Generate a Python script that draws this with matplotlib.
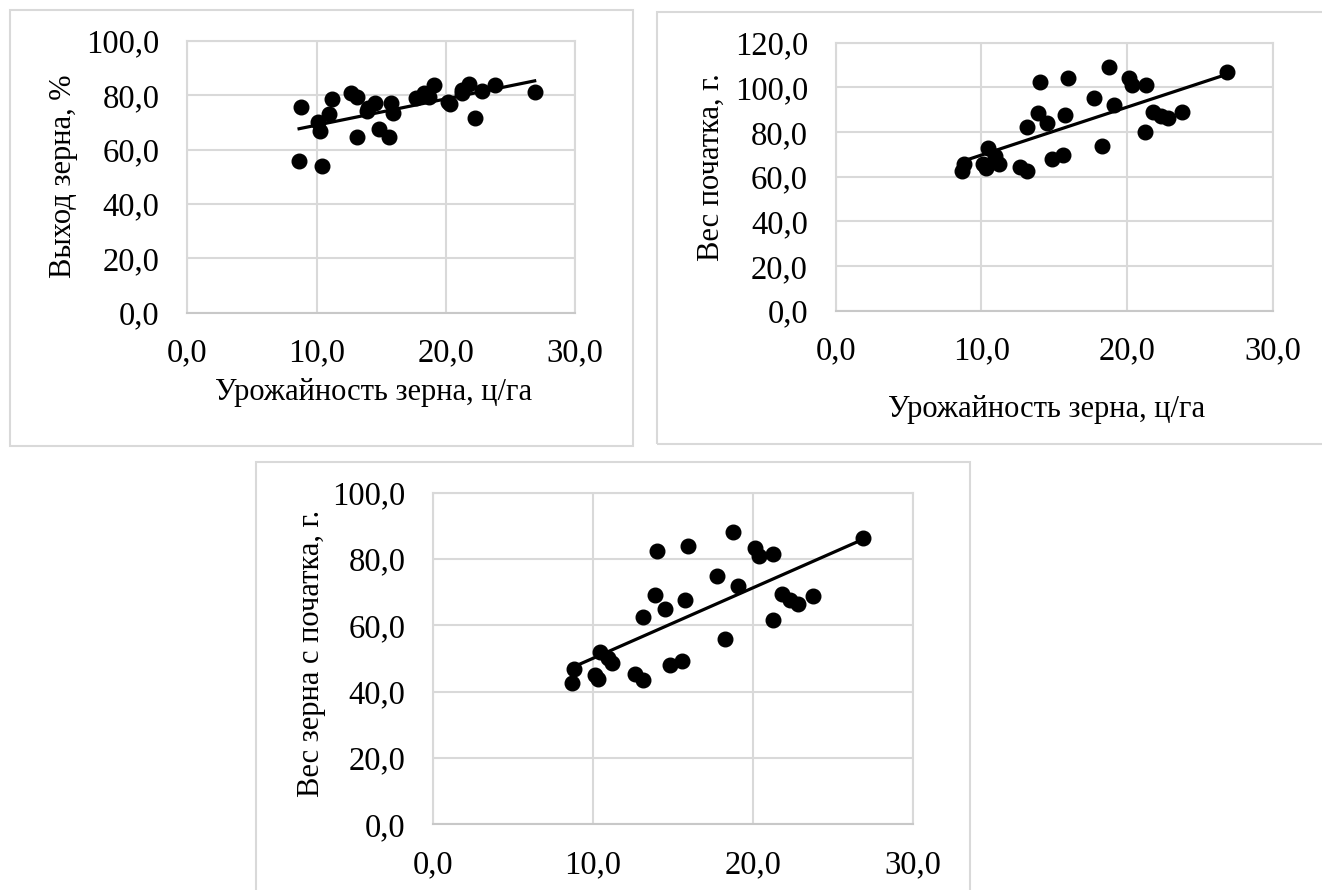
import numpy as np
import matplotlib
matplotlib.use("Agg")
import matplotlib.pyplot as plt
from matplotlib.patches import Rectangle
from matplotlib.ticker import FuncFormatter

plt.rcParams['font.family'] = ['Liberation Serif', 'DejaVu Serif']

# ---- data ----
yield_x = [8.65, 8.81, 10.09, 10.30, 10.43, 10.93, 11.21, 12.65, 13.15, 13.15,
           13.90, 14.02, 14.52, 14.82, 15.58, 15.74, 15.94, 17.73, 18.28, 18.74,
           19.08, 20.15, 20.36, 21.28, 21.23, 21.80, 22.30, 22.83, 23.79, 26.88]
grain_output = [55.9, 75.8, 70.3, 67.0, 54.0, 73.1, 78.6, 80.7, 79.5, 64.8,
                74.4, 75.5, 77.1, 67.5, 64.8, 77.1, 73.6, 79.1, 81.0, 79.5,
                83.8, 77.5, 76.8, 80.7, 82.0, 84.2, 71.5, 81.6, 83.8, 81.3]
ear_weight = [62.6, 65.7, 65.7, 64.0, 73.0, 69.4, 65.6, 64.5, 62.7, 82.4,
              88.7, 102.3, 84.2, 67.8, 69.7, 87.5, 104.3, 95.2, 73.9, 109.0,
              92.2, 104.1, 101.1, 101.1, 80.2, 88.8, 87.2, 86.1, 88.9, 106.7]
kernel_weight = [42.5, 46.8, 45.0, 43.7, 52.1, 50.3, 48.6, 45.2, 43.4, 62.6,
                 69.0, 82.4, 64.9, 48.1, 49.2, 67.7, 83.9, 75.0, 55.8, 88.2,
                 71.9, 83.4, 81.0, 81.6, 61.7, 69.4, 67.5, 66.4, 68.7, 86.2]

x_label = "Урожайность зерна, ц/га"
y_labels = ["Выход зерна, %", "Вес початка, г.", "Вес зерна с початка, г."]
x_ticks = [0, 10, 20, 30]
y_ticks_list = [[0, 20, 40, 60, 80, 100],
                [0, 20, 40, 60, 80, 100, 120],
                [0, 20, 40, 60, 80, 100]]

W, H = 1322, 890
fig = plt.figure(figsize=(W / 100, H / 100), dpi=100)
fig.patch.set_facecolor('white')

GRID = '#d9d9d9'
FS_TICK = 23.5
FS_LABEL = 22


def px_rect(l, t, r, b):
    return [l / W, (H - b) / H, (r - l) / W, (b - t) / H]


def fmt(v, pos):
    return f"{v:.1f}".replace('.', ',')


# chart-area borders
for (l, t, r, b) in [(10, 10, 633, 446), (657, 12, 1340, 444), (256, 462, 970, 900)]:
    fig.patches.append(Rectangle((l / W, (H - b) / H), (r - l) / W, (b - t) / H,
                                 transform=fig.transFigure, fill=False,
                                 edgecolor=GRID, linewidth=1.5, zorder=0))

axes_px = [(187.3, 41, 575, 312.7), (835.7, 42.7, 1272.7, 310.7), (433.3, 492.7, 912.7, 824.3)]
series = [grain_output, ear_weight, kernel_weight]

for i, (rect, ys) in enumerate(zip(axes_px, series)):
    ax = fig.add_axes(px_rect(*rect))
    ax.set_xlim(0, 30)
    yt = y_ticks_list[i]
    ax.set_ylim(yt[0], yt[-1])
    ax.set_xticks(x_ticks)
    ax.set_yticks(yt)
    ax.xaxis.set_major_formatter(FuncFormatter(fmt))
    ax.yaxis.set_major_formatter(FuncFormatter(fmt))
    ax.tick_params(length=0, labelsize=FS_TICK)
    ax.tick_params(axis='y', pad=20)
    ax.tick_params(axis='x', pad=18)
    ax.grid(True, color=GRID, linewidth=1.5)
    ax.set_axisbelow(True)
    for s in ax.spines.values():
        s.set_color(GRID)
        s.set_linewidth(1.5)
    ax.spines['bottom'].set_color('#c8c8c8')
    x = np.array(yield_x)
    y = np.array(ys)
    ax.plot(x, y, 'o', color='black', markersize=10.5, zorder=3, clip_on=False)
    k, c = np.polyfit(x, y, 1)
    xl = np.array([x.min(), x.max()])
    ax.plot(xl, k * xl + c, color='black', linewidth=2.3, zorder=2)

# axis titles
fig.text(374 / W, 1 - 392 / H, x_label, ha='center', va='center', fontsize=FS_LABEL)
fig.text(1047 / W, 1 - 410 / H, x_label, ha='center', va='center', fontsize=FS_LABEL)
fig.text(63 / W, 1 - 176 / H, y_labels[0], ha='center', va='center', rotation=90, fontsize=FS_LABEL)
fig.text(711 / W, 1 - 167 / H, y_labels[1], ha='center', va='center', rotation=90, fontsize=FS_LABEL)
fig.text(311 / W, 1 - 653 / H, y_labels[2], ha='center', va='center', rotation=90, fontsize=FS_LABEL)

fig.savefig('out.png', dpi=100, facecolor='white')
